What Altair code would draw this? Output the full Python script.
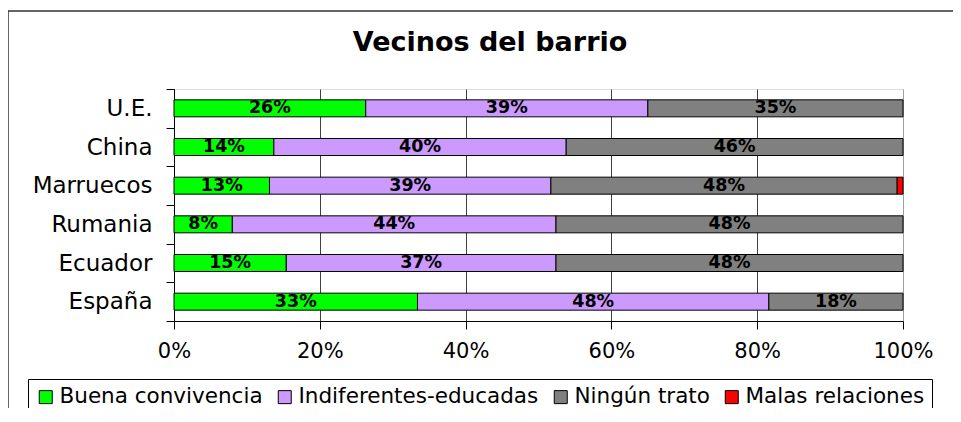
import altair as alt
import pandas as pd

paises = ["U.E.", "China", "Marruecos", "Rumania", "Ecuador", "España"]
series = ["Buena convivencia", "Indiferentes-educadas", "Ningún trato", "Malas relaciones"]
buena = [26.3, 13.7, 13.1, 8.0, 15.4, 33.4]
indif = [38.7, 40.1, 38.6, 44.4, 37.0, 48.2]
ningun = [35.0, 46.2, 47.5, 47.6, 47.6, 18.4]
malas = [0.0, 0.0, 0.8, 0.0, 0.0, 0.0]
colores = ["#00FF00", "#CC99FF", "#808080", "#FF0000"]
x_ticks = [0, 20, 40, 60, 80, 100]
titulo = "Vecinos del barrio"

rows = []
for i, p in enumerate(paises):
    for j, (s, vals) in enumerate(zip(series, [buena, indif, ningun, malas])):
        rows.append({"pais": p, "serie": s, "orden": j, "valor": vals[i]})
df = pd.DataFrame(rows)

FONT = "DejaVu Sans"

y_enc = alt.Y(
    "pais:N",
    sort=paises,
    scale=alt.Scale(paddingInner=0, paddingOuter=0),
    axis=alt.Axis(
        title=None, tickBand="extent", tickSize=8, labelPadding=14,
        labelFontSize=23, labelFont=FONT, labelColor="black",
        domainColor="black", tickColor="black",
    ),
)

base = alt.Chart(df).transform_filter("datum.valor > 0").transform_stack(
    stack="valor", groupby=["pais"], as_=["v0", "v1"],
    sort=[alt.SortField("orden", order="ascending")],
)

bars = base.mark_bar(height=17, stroke="black", strokeWidth=1).encode(
    y=y_enc,
    x=alt.X(
        "v0:Q",
        scale=alt.Scale(domain=[0, 100], nice=False),
        axis=alt.Axis(
            title=None, values=x_ticks, labelExpr="datum.value + '%'",
            grid=True, labelFlush=False,
            gridColor={"condition": {"test": "datum.value === 100", "value": "#a0a0a0"}, "value": "#404040"},
            tickSize=8, tickColor="black", domainColor="black",
            labelFontSize=21, labelFont=FONT, labelColor="black", labelPadding=11,
        ),
    ),
    x2="v1:Q",
    color=alt.Color(
        "serie:N",
        scale=alt.Scale(domain=series, range=colores),
        legend=alt.Legend(
            title=None, orient="none", legendX=-146, legendY=290,
            direction="horizontal", columns=4, symbolType="square",
            symbolSize=169, symbolStrokeColor="black", symbolStrokeWidth=1,
            labelFont=FONT, labelFontSize=21.5, labelColor="black", labelOffset=3,
            columnPadding=11, padding=7, strokeColor="black", fillColor="white",
            labelLimit=400,
        ),
    ),
)

labels = base.transform_filter("datum.valor >= 3").transform_calculate(
    mid="(datum.v0 + datum.v1) / 2",
    lab="round(datum.valor) + '%'",
).mark_text(font=FONT, fontSize=17.5, fontWeight="bold", color="black", baseline="middle").encode(
    y=alt.Y("pais:N", sort=paises),
    x=alt.X("mid:Q"),
    text="lab:N",
)

one = pd.DataFrame({"t": [titulo]})
frame_top = alt.Chart(one).mark_rule(color="#333333", strokeWidth=1.5).encode(
    x=alt.value(-166), x2=alt.value(800), y=alt.value(-78)
)
frame_left = alt.Chart(one).mark_rule(color="#333333", strokeWidth=1.5).encode(
    x=alt.value(-166), y=alt.value(-78), y2=alt.value(340)
)
title_mark = alt.Chart(one).mark_text(
    font=FONT, fontSize=27, fontWeight="bold", color="black",
    align="center", baseline="alphabetic",
).encode(x=alt.value(316), y=alt.value(-38), text="t:N")

chart = alt.layer(bars, labels, frame_top, frame_left, title_mark).properties(
    width=729, height=232,
    autosize="none",
    padding={"left": 166, "top": 81, "right": 50, "bottom": 87},
).configure_view(fill="#FFFFCC", stroke="#a0a0a0", strokeWidth=1).configure(background="white")

chart.save("out.html", embed_options={"renderer": "svg", "actions": False})
